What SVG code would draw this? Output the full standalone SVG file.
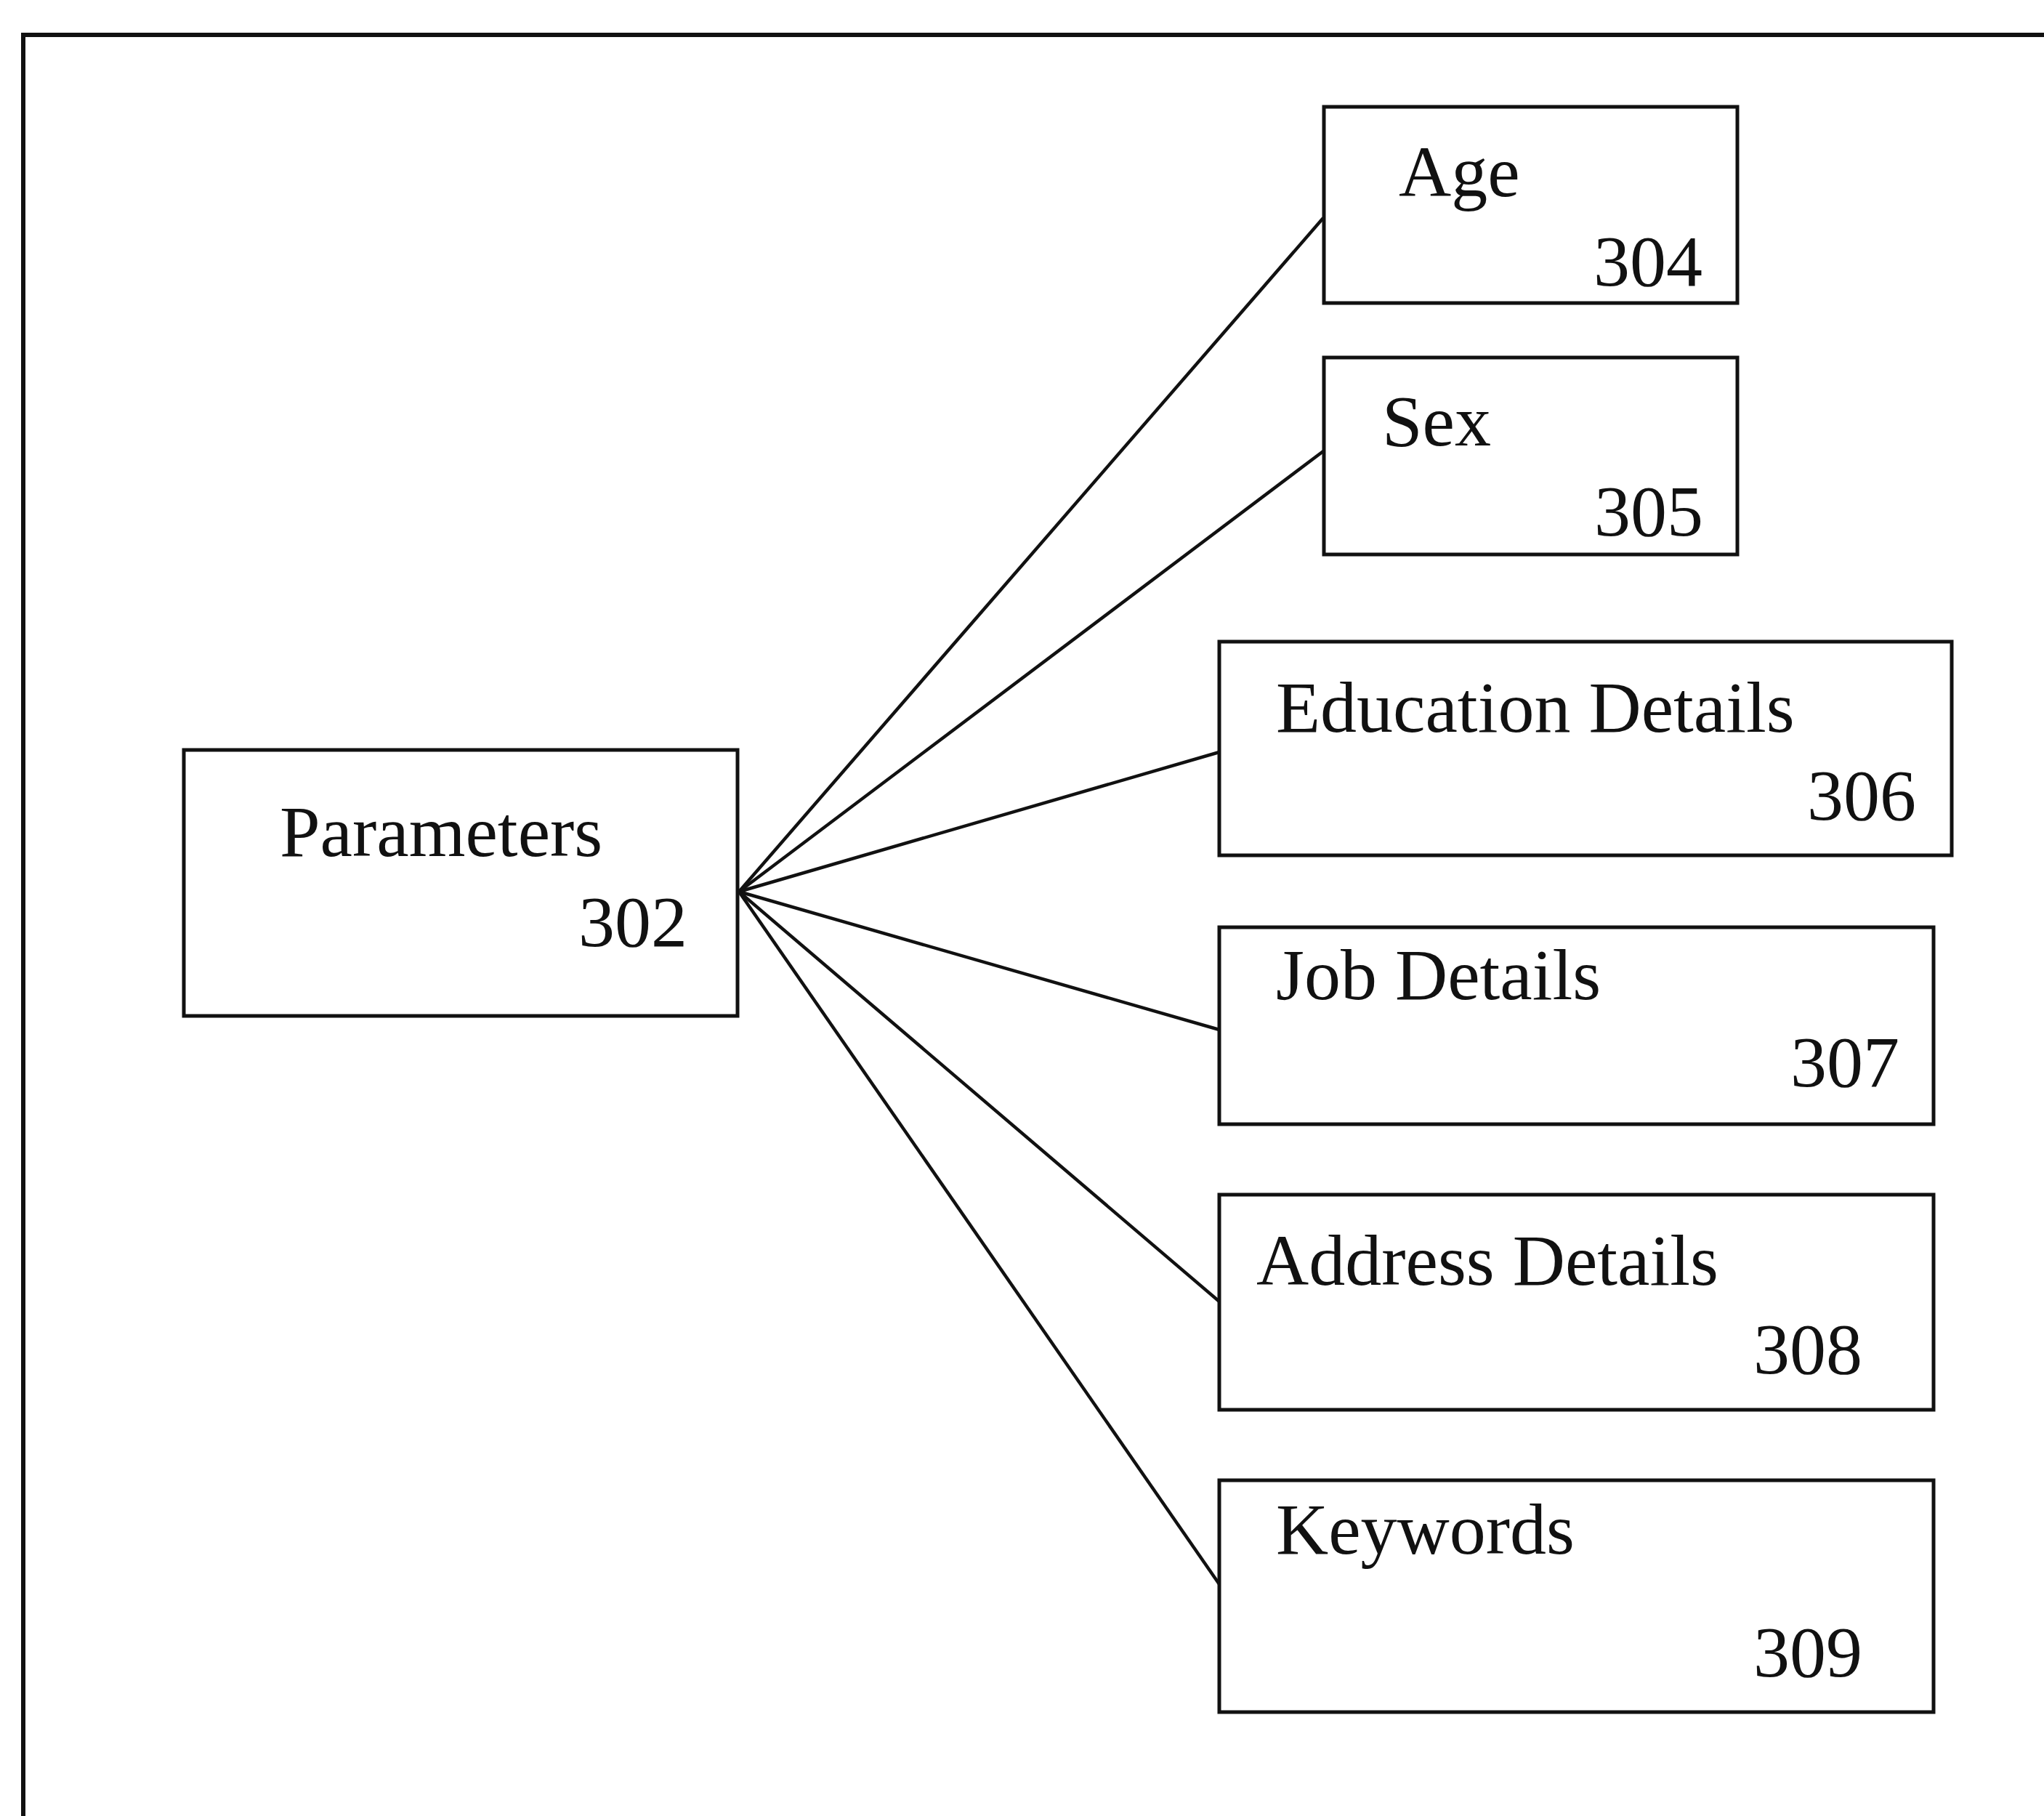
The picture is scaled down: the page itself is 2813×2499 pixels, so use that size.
<svg xmlns="http://www.w3.org/2000/svg" width="2813" height="2499" viewBox="0 0 2813 2499">
<style>
.box{fill:#fff;stroke:#111;stroke-width:5}
.frame{fill:none;stroke:#111;stroke-width:6}
.conn{stroke:#111;stroke-width:4.5;fill:none}
.t{font-family:"Liberation Serif","Times New Roman",serif;font-size:100px;fill:#111}
</style>
<rect x="0" y="0" width="2813" height="2499" fill="#fff"/>
<path class="frame" d="M32 2499 V48 H2813"/>
<g id="connectors">
<line class="conn" x1="1017" y1="1227" x2="1821" y2="300"/>
<line class="conn" x1="1017" y1="1227" x2="1821" y2="621"/>
<line class="conn" x1="1017" y1="1227" x2="1678" y2="1035"/>
<line class="conn" x1="1017" y1="1227" x2="1678" y2="1417"/>
<line class="conn" x1="1017" y1="1227" x2="1678" y2="1791"/>
<line class="conn" x1="1017" y1="1227" x2="1678" y2="2180"/>
</g>
<g id="node-302">
<rect class="box" x="253" y="1032" width="762" height="366"/>
<text class="t" x="385" y="1178">Parameters</text>
<text class="t" x="796" y="1302">302</text>
</g>
<g id="node-304">
<rect class="box" x="1822" y="147" width="569" height="270"/>
<text class="t" x="1925" y="270">Age</text>
<text class="t" x="2193" y="393">304</text>
</g>
<g id="node-305">
<rect class="box" x="1822" y="492" width="569" height="271"/>
<text class="t" x="1902" y="613">Sex</text>
<text class="t" x="2194" y="737">305</text>
</g>
<g id="node-306">
<rect class="box" x="1678" y="883" width="1008" height="294"/>
<text class="t" x="1756" y="1007">Education Details</text>
<text class="t" x="2487" y="1128">306</text>
</g>
<g id="node-307">
<rect class="box" x="1678" y="1276" width="983" height="271"/>
<text class="t" x="1756" y="1375">Job Details</text>
<text class="t" x="2464" y="1495">307</text>
</g>
<g id="node-308">
<rect class="box" x="1678" y="1644" width="983" height="296"/>
<text class="t" x="1729" y="1768">Address Details</text>
<text class="t" x="2413" y="1890">308</text>
</g>
<g id="node-309">
<rect class="box" x="1678" y="2037" width="983" height="319"/>
<text class="t" x="1756" y="2138">Keywords</text>
<text class="t" x="2413" y="2307">309</text>
</g>
</svg>
